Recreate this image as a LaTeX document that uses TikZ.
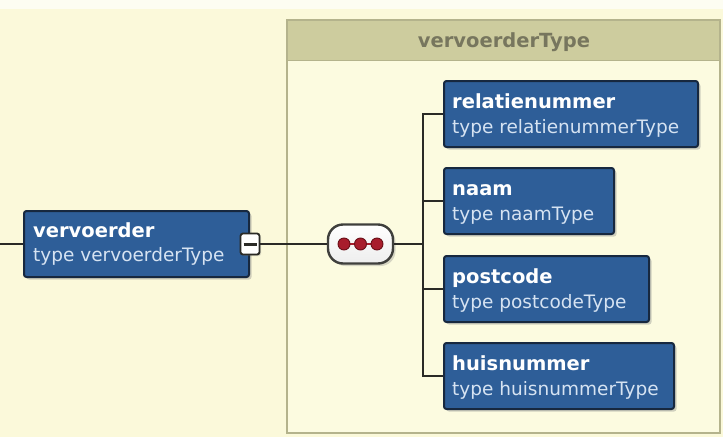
\documentclass[tikz,border=0pt]{standalone}
\usepackage{fontspec}
\setmainfont{DejaVu Sans}
\usetikzlibrary{calc,shadows}
\definecolor{bg}{HTML}{FBF9DA}
\definecolor{topstrip}{HTML}{FDFDF2}
\definecolor{bodycol}{HTML}{FCFBE0}
\definecolor{headcol}{HTML}{CDCC9E}
\definecolor{contborder}{HTML}{B4B38C}
\definecolor{headtext}{HTML}{77765E}
\definecolor{boxblue}{HTML}{2E5E98}
\definecolor{boxborder}{HTML}{17283F}
\definecolor{subtext}{HTML}{D6E3F2}
\definecolor{linecol}{HTML}{2A2A26}
\definecolor{dotred}{HTML}{A81D2C}
\definecolor{dotdark}{HTML}{6A0F18}
\begin{document}
\begin{tikzpicture}[x=1pt,y=-1pt,
  elem/.style={draw=boxborder, line width=2pt, fill=boxblue, rounded corners=2.5pt,
    minimum height=66pt, inner sep=0pt, anchor=north west,
    drop shadow={shadow xshift=2.5pt,shadow yshift=-2.5pt,opacity=0.35}},
  etitle/.style={anchor=base west, inner sep=0pt, text=white,
    font=\fontsize{19.5}{22}\selectfont\bfseries},
  esub/.style={anchor=base west, inner sep=0pt, text=subtext,
    font=\fontsize{18.5}{22}\selectfont},
  conn/.style={draw=linecol, line width=2pt, line join=miter},
  minusbox/.style={draw=linecol, line width=1.8pt, fill=white, rounded corners=2.5pt,
    minimum width=19pt, minimum height=21pt, inner sep=0pt,
    drop shadow={shadow xshift=1.5pt,shadow yshift=-1.5pt,opacity=0.3},
    path picture={\draw[linecol, line width=3pt]
      ([xshift=3pt]path picture bounding box.west) -- ([xshift=-3pt]path picture bounding box.east);}},
  seqbox/.style={draw=linecol!90, line width=2.4pt, top color=white, bottom color=black!7,
    rounded corners=15pt, minimum width=65pt, minimum height=39pt, inner sep=0pt,
    drop shadow={shadow xshift=2.5pt,shadow yshift=-2.5pt,opacity=0.3},
    path picture={
      \coordinate (pc) at (path picture bounding box.center);
      \draw[dotred, line width=2.2pt] ([xshift=-16.5pt]pc) -- ([xshift=16.5pt]pc);
      \foreach \dx in {-16.5,0,16.5}
        \filldraw[fill=dotred, draw=dotdark, line width=0.9pt] ([xshift=\dx pt]pc) circle[radius=6pt];
    }}
]
\useasboundingbox (0,0) rectangle (723,437);
\fill[bg] (0,0) rectangle (723,437);
\fill[topstrip] (0,0) rectangle (723,9);

% container
\draw[fill=bodycol, draw=contborder, line width=2pt] (287,20) rectangle (720,433);
\fill[headcol] (288,21) rectangle (719,60);
\draw[contborder, line width=1.2pt] (287,60.5) -- (720,60.5);
\node[text=headtext, font=\fontsize{19.5}{22}\selectfont\bfseries, inner sep=0pt] (ctitle) at (504,42) {vervoerderType};

% main element
\node[elem, minimum width=225pt] (v) at (23,210) {};
\node[etitle] (vt) at ($(v.north west)+(10pt,-27pt)$) {vervoerder};
\node[esub] (vs) at ($(v.north west)+(10pt,-51pt)$) {type vervoerderType};
\node[minusbox] (m) at (v.east) {};

% sequence
\node[seqbox] (seq) at (v.east -| 360.5,0) {};

% children
\node[elem, minimum width=254pt] (c1) at (443,80) {};
\node[etitle] (c1t) at ($(c1.north west)+(9pt,-28pt)$) {relatienummer};
\node[esub] (c1s) at ($(c1.north west)+(9pt,-53pt)$) {type relatienummerType};

\node[elem, minimum width=170pt] (c2) at (443,167) {};
\node[etitle] (c2t) at ($(c2.north west)+(9pt,-28pt)$) {naam};
\node[esub] (c2s) at ($(c2.north west)+(9pt,-53pt)$) {type naamType};

\node[elem, minimum width=205pt] (c3) at (443,255) {};
\node[etitle] (c3t) at ($(c3.north west)+(9pt,-28pt)$) {postcode};
\node[esub] (c3s) at ($(c3.north west)+(9pt,-53pt)$) {type postcodeType};

\node[elem, minimum width=230pt] (c4) at (443,342) {};
\node[etitle] (c4t) at ($(c4.north west)+(9pt,-28pt)$) {huisnummer};
\node[esub] (c4s) at ($(c4.north west)+(9pt,-53pt)$) {type huisnummerType};

% connectors
\coordinate (o) at (0,0);
\coordinate (ox) at (423,0);
\coordinate (lin) at (v.west -| o);
\coordinate (j) at (v.west -| ox);
\draw[conn] (lin) -- (v.west);
\draw[conn] (m.east) -- (seq.west);
\draw[conn] (seq.east) -- (j);
\draw[conn] (j) |- (c1.west);
\draw[conn] (j) |- (c2.west);
\draw[conn] (j) |- (c3.west);
\draw[conn] (j) |- (c4.west);
\end{tikzpicture}
\end{document}
